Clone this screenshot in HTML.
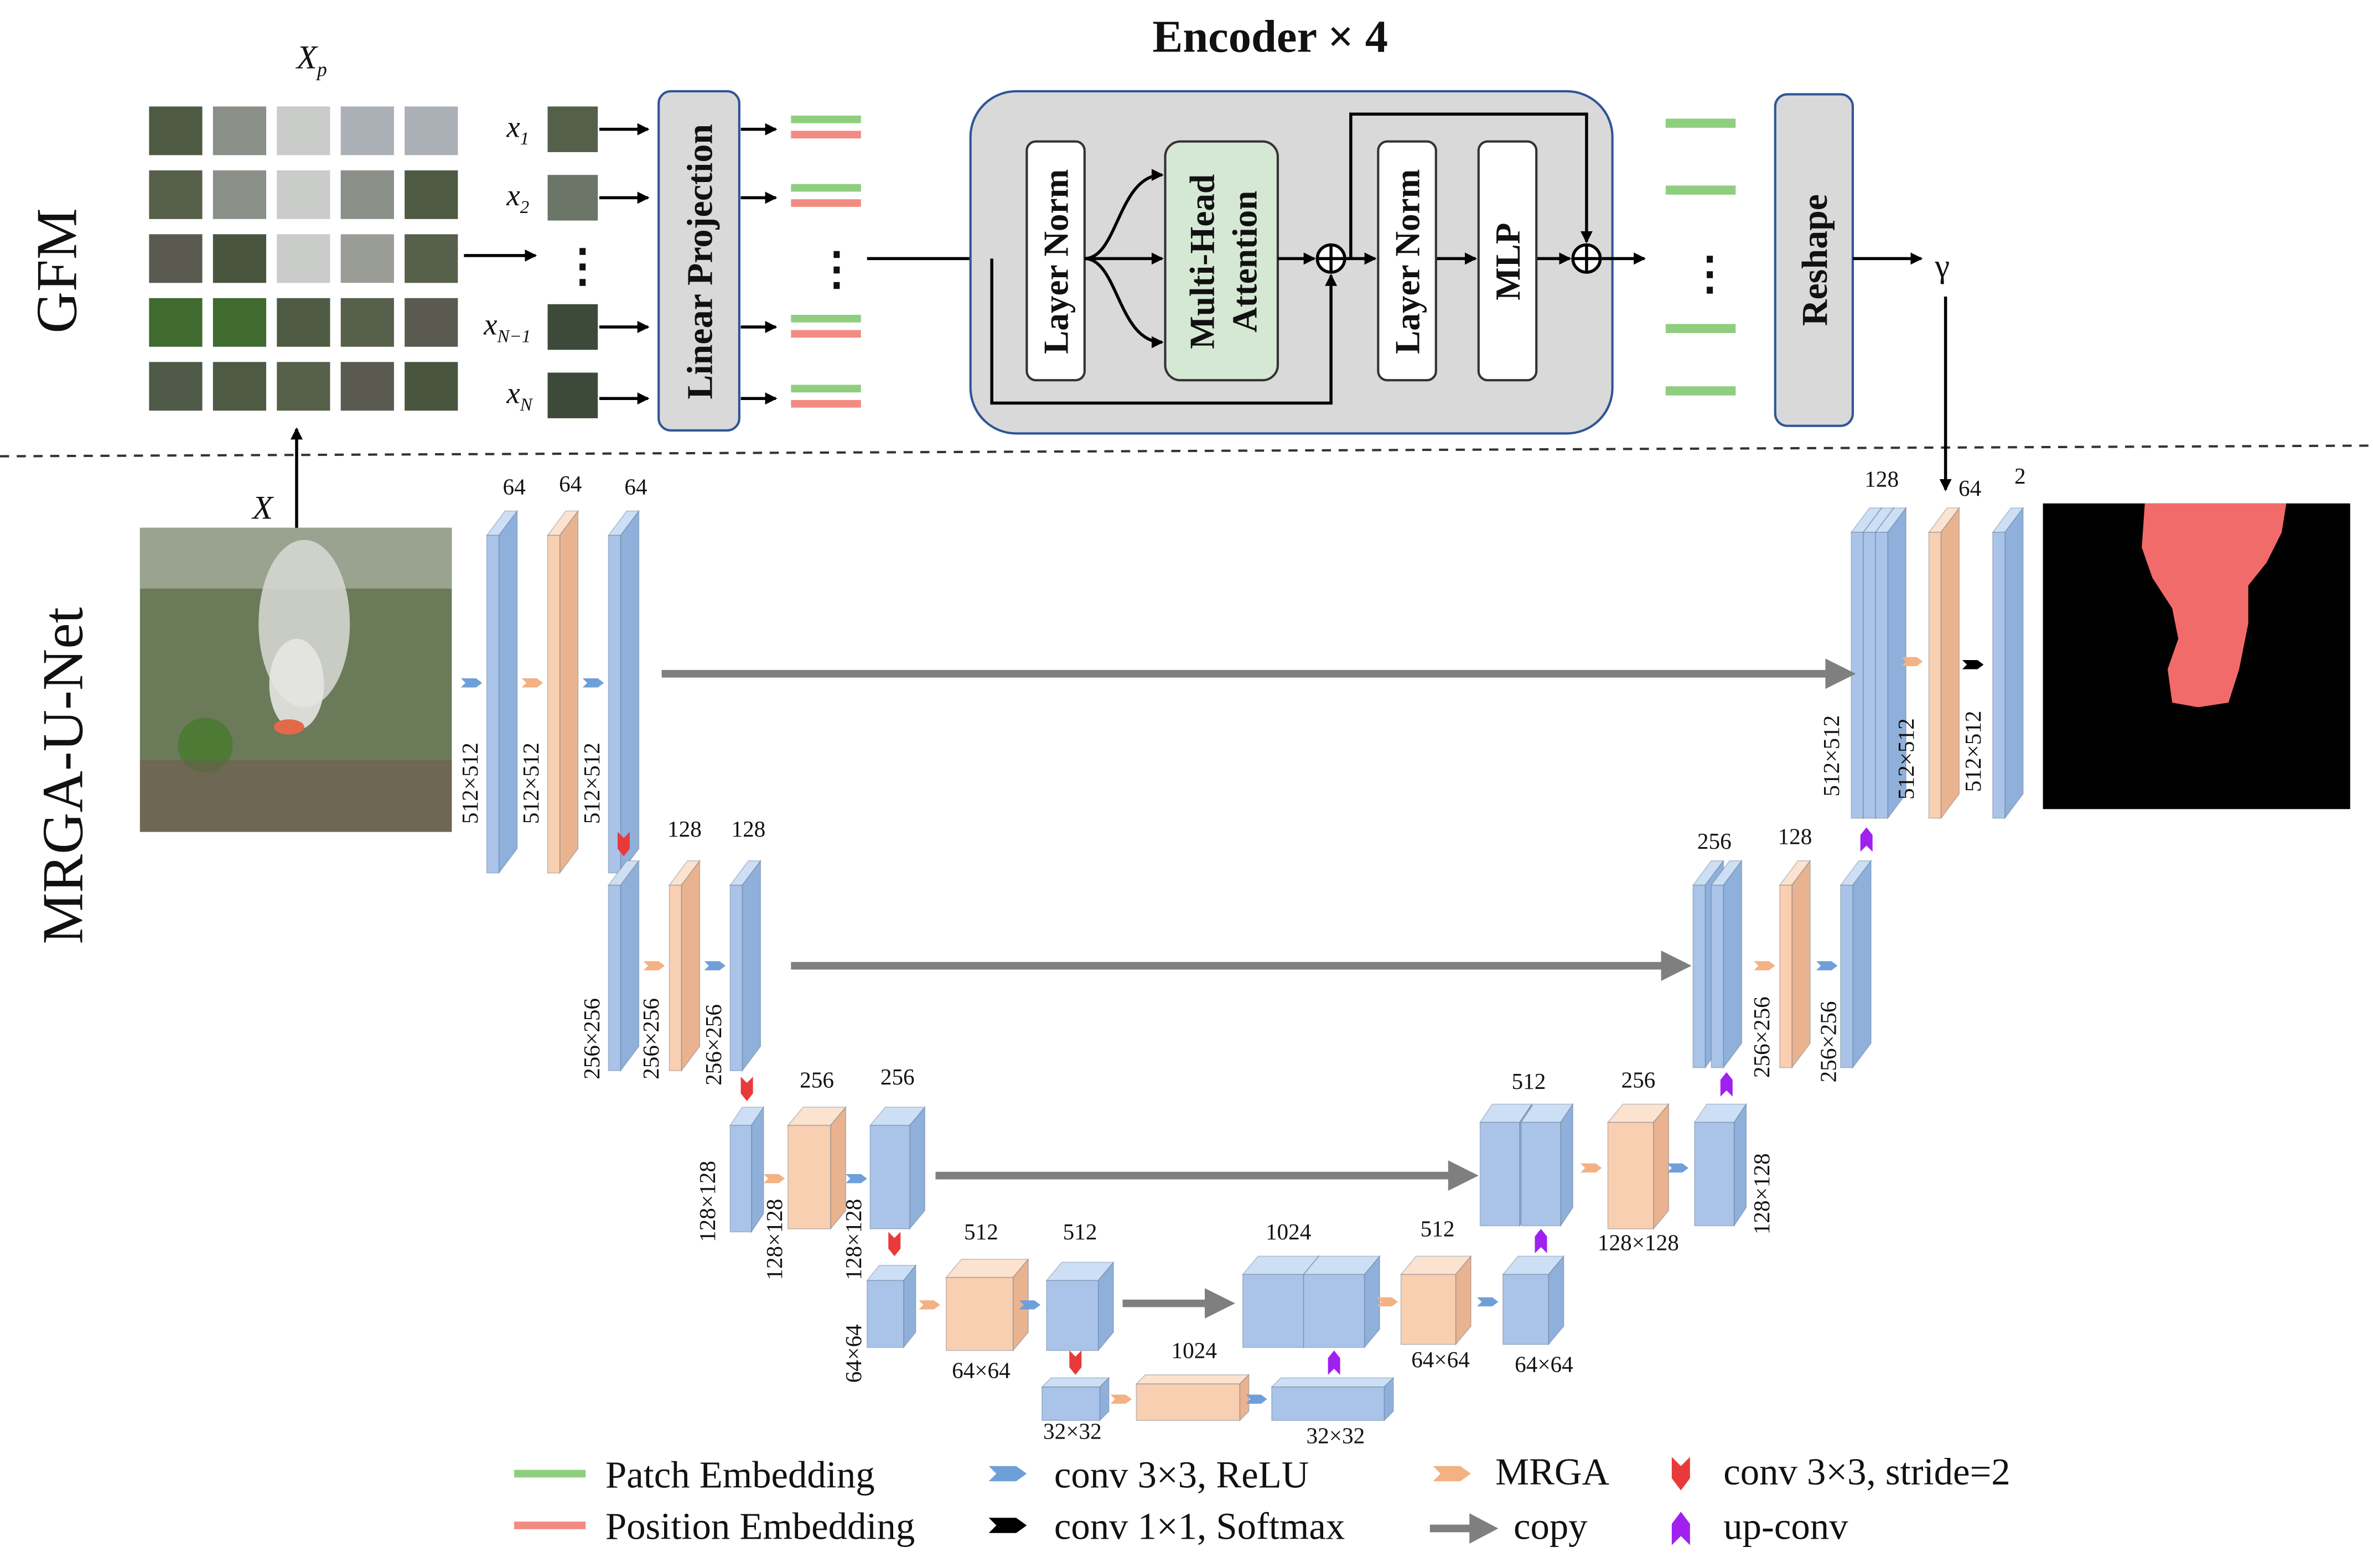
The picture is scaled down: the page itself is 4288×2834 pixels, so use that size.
<!DOCTYPE html>
<html><head><meta charset="utf-8"><style>
html,body{margin:0;padding:0;background:#fff;width:4288px;height:2834px;overflow:hidden}
svg{display:block}
text{font-family:"Liberation Serif",serif;fill:#111}
.n{font-size:15px;fill:#444}
.b{font-weight:bold}
</style></head><body>
<svg id="s" width="4288" height="2834" viewBox="0 0 1560 1031" xmlns="http://www.w3.org/2000/svg">
<defs>
<marker id="ah" markerWidth="8" markerHeight="8" refX="7" refY="4" orient="auto" markerUnits="userSpaceOnUse"><path d="M0,0L8,4L0,8z" fill="#000"/></marker>
<polygon id="ba" points="0,-3 10,-3 14,0 10,3 0,3 3,0" fill="#6f9fd8"/>
<polygon id="oa" points="0,-3 10,-3 14,0 10,3 0,3 3,0" fill="#f4b183"/>
<polygon id="ka" points="0,-3 10,-3 14,0 10,3 0,3 3,0" fill="#000"/>
<polygon id="ra" points="-4,-8 0,-4 4,-8 4,3 0,8 -4,3" fill="#e83a3a"/>
<polygon id="pa" points="-4,8 0,4 4,8 4,-3 0,-8 -4,-3" fill="#a020f0"/>
</defs>
<rect width="1560" height="1031" fill="#fff"/>
<g id="shapes"></g>

<text transform="translate(50,178) rotate(-90)" font-size="38" text-anchor="middle">GFM</text>
<text transform="translate(54,510) rotate(-90)" font-size="38" text-anchor="middle">MRGA-U-Net</text>
<line x1="0" y1="300" x2="1560" y2="293" stroke="#333" stroke-width="1.5" stroke-dasharray="6,5"/>

<text x="195" y="45" font-size="22" font-style="italic">X<tspan font-size="13" dy="5">p</tspan></text>
<g id="grid"></g>
<line x1="305" y1="168" x2="352" y2="168" stroke="#000" stroke-width="2" marker-end="url(#ah)"/>
<text x="368" y="185" font-size="30" class="b">⋮</text>

<text x="333" y="90" font-size="20" font-style="italic">x<tspan font-size="12" dy="5">1</tspan></text>
<text x="333" y="135" font-size="20" font-style="italic">x<tspan font-size="12" dy="5">2</tspan></text>
<text x="318" y="220" font-size="20" font-style="italic">x<tspan font-size="12" dy="5">N−1</tspan></text>
<text x="333" y="265" font-size="20" font-style="italic">x<tspan font-size="12" dy="5">N</tspan></text>
<g stroke="#000" stroke-width="2">
<line x1="394" y1="85" x2="426" y2="85" marker-end="url(#ah)"/>
<line x1="394" y1="130" x2="426" y2="130" marker-end="url(#ah)"/>
<line x1="394" y1="215" x2="426" y2="215" marker-end="url(#ah)"/>
<line x1="394" y1="262" x2="426" y2="262" marker-end="url(#ah)"/>
<line x1="487" y1="85" x2="510" y2="85" marker-end="url(#ah)"/>
<line x1="487" y1="130" x2="510" y2="130" marker-end="url(#ah)"/>
<line x1="487" y1="215" x2="510" y2="215" marker-end="url(#ah)"/>
<line x1="487" y1="262" x2="510" y2="262" marker-end="url(#ah)"/>
</g>
<rect x="433" y="60" width="53" height="223" rx="8" fill="#d9d9d9" stroke="#2f5597" stroke-width="1.5"/>
<text transform="translate(468,172) rotate(-90)" font-size="24" class="b" text-anchor="middle">Linear  Projection</text>
<g>
<rect x="520" y="76" width="46" height="5" fill="#8fce7f"/><rect x="520" y="86" width="46" height="5" fill="#f28b82"/>
<rect x="520" y="121" width="46" height="5" fill="#8fce7f"/><rect x="520" y="131" width="46" height="5" fill="#f28b82"/>
<rect x="520" y="207" width="46" height="5" fill="#8fce7f"/><rect x="520" y="217" width="46" height="5" fill="#f28b82"/>
<rect x="520" y="253" width="46" height="5" fill="#8fce7f"/><rect x="520" y="263" width="46" height="5" fill="#f28b82"/>
</g>
<text x="535" y="187" font-size="30" class="b">⋮</text>
<line x1="570" y1="170" x2="672" y2="170" stroke="#000" stroke-width="2" marker-end="url(#ah)"/>

<text x="835" y="34" font-size="30" class="b" text-anchor="middle">Encoder × 4</text>
<rect x="638" y="60" width="422" height="225" rx="30" fill="#d9d9d9" stroke="#2f5597" stroke-width="1.5"/>
<rect x="675" y="93" width="38" height="157" rx="6" fill="#fff" stroke="#333" stroke-width="1.5"/>
<text transform="translate(702,172) rotate(-90)" font-size="23" class="b" text-anchor="middle">Layer  Norm</text>
<rect x="766" y="93" width="74" height="157" rx="10" fill="#d5e8d4" stroke="#333" stroke-width="1.5"/>
<text transform="translate(798,172) rotate(-90)" font-size="23" class="b" text-anchor="middle">Multi-Head</text>
<text transform="translate(826,172) rotate(-90)" font-size="23" class="b" text-anchor="middle">Attention</text>
<g stroke="#000" stroke-width="2" fill="none">
<path d="M713,170 C735,170 735,115 764,115" marker-end="url(#ah)"/>
<line x1="713" y1="170" x2="764" y2="170" marker-end="url(#ah)"/>
<path d="M713,170 C735,170 735,225 764,225" marker-end="url(#ah)"/>
<line x1="840" y1="170" x2="864" y2="170" marker-end="url(#ah)"/>
<path d="M652,170 L652,265 L875,265 L875,181" marker-end="url(#ah)"/>
<line x1="885" y1="170" x2="904" y2="170" marker-end="url(#ah)"/>
<line x1="944" y1="170" x2="970" y2="170" marker-end="url(#ah)"/>
<line x1="1010" y1="170" x2="1032" y2="170" marker-end="url(#ah)"/>
<path d="M888,170 L888,75 L1043,75 L1043,159" marker-end="url(#ah)"/>
<line x1="1053" y1="170" x2="1081" y2="170" marker-end="url(#ah)"/>
<circle cx="875" cy="170" r="9" fill="#fff"/><path d="M866,170h18M875,161v18"/>
<circle cx="1043" cy="170" r="9" fill="#fff"/><path d="M1034,170h18M1043,161v18"/>
</g>
<rect x="906" y="93" width="38" height="157" rx="6" fill="#fff" stroke="#333" stroke-width="1.5"/>
<text transform="translate(933,172) rotate(-90)" font-size="23" class="b" text-anchor="middle">Layer  Norm</text>
<rect x="972" y="93" width="38" height="157" rx="6" fill="#fff" stroke="#333" stroke-width="1.5"/>
<text transform="translate(999,172) rotate(-90)" font-size="23" class="b" text-anchor="middle">MLP</text>

<g fill="#8fce7f">
<rect x="1095" y="78" width="46" height="6"/><rect x="1095" y="122" width="46" height="6"/>
<rect x="1095" y="213" width="46" height="6"/><rect x="1095" y="254" width="46" height="6"/>
</g>
<text x="1109" y="190" font-size="30" class="b">⋮</text>
<rect x="1167" y="62" width="51" height="218" rx="8" fill="#d9d9d9" stroke="#2f5597" stroke-width="1.5"/>
<text transform="translate(1201,171) rotate(-90)" font-size="24" class="b" text-anchor="middle">Reshape</text>
<line x1="1218" y1="170" x2="1263" y2="170" stroke="#000" stroke-width="2" marker-end="url(#ah)"/>
<text x="1272" y="182" font-size="22">γ</text>
<line x1="1279" y1="195" x2="1279" y2="322" stroke="#000" stroke-width="2" marker-end="url(#ah)"/>

<rect x="92" y="347" width="205" height="200" fill="#6b7a58"/>
<rect x="92" y="347" width="205" height="40" fill="#9aa290"/>
<ellipse cx="200" cy="410" rx="30" ry="55" fill="#d8dbd6" opacity="0.85"/>
<ellipse cx="195" cy="450" rx="18" ry="30" fill="#e6e6e2" opacity="0.9"/>
<circle cx="135" cy="490" r="18" fill="#4d7a35"/>
<ellipse cx="190" cy="478" rx="10" ry="5" fill="#e06a4a"/>
<rect x="92" y="500" width="205" height="47" fill="#6e5a50" opacity="0.6"/>
<line x1="195" y1="347" x2="195" y2="282" stroke="#000" stroke-width="2" marker-end="url(#ah)"/>
<text x="166" y="341" font-size="22" font-style="italic">X</text>

<rect x="1343" y="331" width="202" height="201" fill="#000"/>
<path d="M1410,331 L1503,331 L1500,350 L1490,370 L1478,385 L1478,410 L1472,440 L1465,462 L1445,465 L1428,462 L1425,440 L1432,420 L1428,400 L1415,380 L1408,360 Z" fill="#f26b6b"/>

<g stroke="#7f7f7f" stroke-width="5">
<line x1="435" y1="443" x2="1205" y2="443"/>
<line x1="520" y1="635" x2="1098" y2="635"/>
<line x1="615" y1="773" x2="958" y2="773"/>
<line x1="738" y1="857" x2="798" y2="857"/>
</g>
<g fill="#7f7f7f">
<polygon points="1200,433 1220,443 1200,453"/>
<polygon points="1092,625 1112,635 1092,645"/>
<polygon points="952,763 972,773 952,783"/>
<polygon points="792,847 812,857 792,867"/>
</g>

<g class="n" text-anchor="middle">
<text x="338" y="325">64</text><text x="375" y="323">64</text><text x="418" y="325">64</text>
<text x="450" y="550">128</text><text x="492" y="550">128</text>
<text x="537" y="715">256</text><text x="590" y="713">256</text>
<text x="645" y="815">512</text><text x="710" y="815">512</text>
<text x="785" y="893">1024</text>
<text x="847" y="815">1024</text><text x="945" y="813">512</text>
<text x="1005" y="716">512</text><text x="1077" y="715">256</text>
<text x="1127" y="558">256</text><text x="1180" y="555">128</text>
<text x="1237" y="320">128</text><text x="1295" y="326">64</text><text x="1328" y="318">2</text>
<text x="645" y="906">64×64</text><text x="947" y="899">64×64</text><text x="1015" y="902">64×64</text>
<text x="705" y="946">32×32</text><text x="878" y="949">32×32</text>
<text x="1077" y="822">128×128</text>
</g>
<g class="n" text-anchor="middle">
<text transform="translate(314,515) rotate(-90)">512×512</text>
<text transform="translate(354,515) rotate(-90)">512×512</text>
<text transform="translate(394,515) rotate(-90)">512×512</text>
<text transform="translate(394,683) rotate(-90)">256×256</text>
<text transform="translate(433,683) rotate(-90)">256×256</text>
<text transform="translate(474,687) rotate(-90)">256×256</text>
<text transform="translate(470,790) rotate(-90)">128×128</text>
<text transform="translate(514,815) rotate(-90)">128×128</text>
<text transform="translate(566,815) rotate(-90)">128×128</text>
<text transform="translate(566,890) rotate(-90)">64×64</text>
<text transform="translate(1163,785) rotate(-90)">128×128</text>
<text transform="translate(1163,682) rotate(-90)">256×256</text>
<text transform="translate(1207,685) rotate(-90)">256×256</text>
<text transform="translate(1209,497) rotate(-90)">512×512</text>
<text transform="translate(1258,499) rotate(-90)">512×512</text>
<text transform="translate(1302,494) rotate(-90)">512×512</text>
</g>

<use href="#ba" x="303" y="449"/><use href="#oa" x="343" y="449"/><use href="#ba" x="383" y="449"/>
<use href="#oa" x="423" y="635"/><use href="#ba" x="463" y="635"/>
<use href="#oa" x="502" y="775"/><use href="#ba" x="556" y="775"/>
<use href="#oa" x="604" y="858"/><use href="#ba" x="670" y="858"/>
<use href="#oa" x="730" y="920"/><use href="#ba" x="819" y="920"/>
<use href="#oa" x="905" y="856"/><use href="#ba" x="971" y="856"/>
<use href="#oa" x="1039" y="768"/><use href="#ba" x="1096" y="768"/>
<use href="#oa" x="1153" y="635"/><use href="#ba" x="1194" y="635"/>
<use href="#oa" x="1250" y="435"/><use href="#ka" x="1290" y="437"/>
<use href="#ra" x="410" y="555"/><use href="#ra" x="491" y="716"/><use href="#ra" x="588" y="818"/><use href="#ra" x="707" y="896"/>
<use href="#pa" x="877" y="896"/><use href="#pa" x="1013" y="816"/><use href="#pa" x="1135" y="713"/><use href="#pa" x="1227" y="552"/>

<line x1="338" y1="969" x2="385" y2="969" stroke="#8fce7f" stroke-width="5"/>
<text x="398" y="978" font-size="25">Patch Embedding</text>
<line x1="338" y1="1003" x2="385" y2="1003" stroke="#f28b82" stroke-width="5"/>
<text x="398" y="1012" font-size="25">Position Embedding</text>
<polygon points="650,964 668,964 675,969 668,974 650,974 655,969" fill="#6f9fd8"/>
<text x="693" y="978" font-size="25">conv 3×3, ReLU</text>
<polygon points="650,998 668,998 675,1003 668,1008 650,1008 655,1003" fill="#000"/>
<text x="693" y="1012" font-size="25">conv 1×1, Softmax</text>
<polygon points="942,964 960,964 967,969 960,974 942,974 947,969" fill="#f4b183"/>
<text x="983" y="976" font-size="25">MRGA</text>
<line x1="940" y1="1005" x2="970" y2="1005" stroke="#7f7f7f" stroke-width="5"/>
<polygon points="966,995 985,1005 966,1015" fill="#7f7f7f"/>
<text x="995" y="1012" font-size="25">copy</text>
<polygon points="1099,958 1105,964 1111,958 1111,972 1105,980 1099,972" fill="#e83a3a"/>
<text x="1133" y="976" font-size="25">conv 3×3, stride=2</text>
<polygon points="1099,1016 1105,1010 1111,1016 1111,1002 1105,994 1099,1002" fill="#a020f0"/>
<text x="1133" y="1012" font-size="25">up-conv</text>
</svg>
<script>
(function(){
var g=document.getElementById('shapes'),NS='http://www.w3.org/2000/svg';
function poly(p,f){var e=document.createElementNS(NS,'polygon');e.setAttribute('points',p);e.setAttribute('fill',f);e.setAttribute('stroke','rgba(80,100,130,0.35)');e.setAttribute('stroke-width','0.6');g.appendChild(e);}
var C={b:['#a9c4e8','#cddff4','#8fb0da'],o:['#f8cfb0','#fce3d0','#eab38f']};
function box(x,y,w,h,dx,dy,c){var k=C[c];
poly(x+','+y+' '+(x+dx)+','+(y-dy)+' '+(x+w+dx)+','+(y-dy)+' '+(x+w)+','+y,k[1]);
poly((x+w)+','+y+' '+(x+w+dx)+','+(y-dy)+' '+(x+w+dx)+','+(y+h-dy)+' '+(x+w)+','+(y+h),k[2]);
poly(x+','+y+' '+(x+w)+','+y+' '+(x+w)+','+(y+h)+' '+x+','+(y+h),k[0]);}
box(320,352,8,222,12,16,'b');box(360,352,8,222,12,16,'o');box(400,352,8,222,12,16,'b');
box(400,582,8,122,12,16,'b');box(440,582,8,122,12,16,'o');box(480,582,8,122,12,16,'b');
box(480,740,14,70,8,12,'b');box(518,740,28,68,10,12,'o');box(572,740,26,68,10,12,'b');
box(570,842,24,44,8,10,'b');box(622,840,44,48,10,12,'o');box(688,842,34,46,10,12,'b');
box(685,912,38,22,6,6,'b');box(747,910,68,24,6,6,'o');box(836,912,74,22,6,6,'b');
box(817,838,40,48,10,12,'b');box(857,838,40,48,10,12,'b');box(921,838,36,46,10,12,'o');box(988,838,30,46,10,12,'b');
box(973,738,26,68,8,12,'b');box(1000,738,26,68,8,12,'b');box(1057,738,30,70,10,12,'o');box(1114,738,26,68,8,12,'b');
box(1113,582,8,120,12,16,'b');box(1125,582,8,120,12,16,'b');box(1170,582,8,120,12,16,'o');box(1210,582,8,120,12,16,'b');
box(1217,350,8,188,12,16,'b');box(1225,350,8,188,12,16,'b');box(1233,350,8,188,12,16,'b');box(1268,350,8,188,12,16,'o');box(1310,350,8,188,12,16,'b');
var gr=document.getElementById('grid');
function rect(p,x,y,w,h,f){var e=document.createElementNS(NS,'rect');e.setAttribute('x',x);e.setAttribute('y',y);e.setAttribute('width',w);e.setAttribute('height',h);e.setAttribute('fill',f);p.appendChild(e);}
var cols=['#4f5a45','#56604a','#5a5a50','#4a5540','#505a48'];
for(var r=0;r<5;r++)for(var c=0;c<5;c++){var x=98+c*42,y=70+r*42;
var f=cols[(r+c)%5];if(r==3&&c<2)f='#3f6a30';
if(c==2&&r<3)f='#c9ccc8';if((c==1||c==3)&&r<2)f='#8a8f88';if(c==3&&r==2)f='#9a9d96';
if(r==0&&c>2)f='#aab0b5';
rect(gr,x,y,35,32,f);}
rect(gr,360,70,33,30,'#55604a');rect(gr,360,115,33,30,'#6b7568');rect(gr,360,200,33,30,'#3d4a3a');rect(gr,360,245,33,30,'#3d4a3a');
})();
</script>
</body></html>
